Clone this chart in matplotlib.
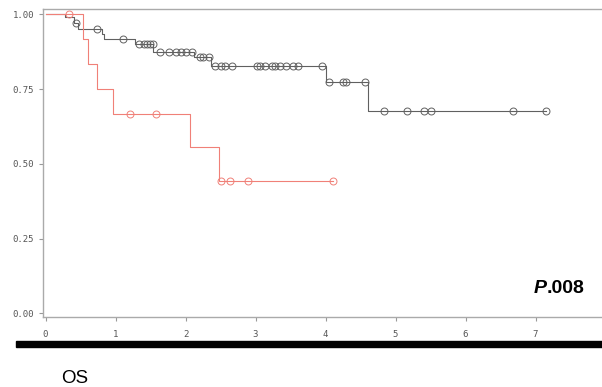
import numpy as np
import matplotlib.pyplot as plt
from matplotlib.patches import Rectangle
from matplotlib.ticker import FormatStrFormatter

# group 1 (black): step times and survival after each step
black_times = [0, 0.28, 0.41, 0.46, 0.80, 0.84, 1.28, 1.54, 2.12, 2.37, 4.01, 4.61]
black_surv = [1.0, 0.99, 0.97, 0.952, 0.935, 0.917, 0.90, 0.875, 0.857, 0.828, 0.773, 0.677]
black_end = 7.15
black_cens = [0.44, 0.73, 1.10, 1.34, 1.40, 1.45, 1.49, 1.53, 1.63, 1.77, 1.87, 1.94,
              2.01, 2.09, 2.21, 2.25, 2.33, 2.42, 2.50, 2.57, 2.66, 3.02, 3.06, 3.14,
              3.23, 3.28, 3.35, 3.43, 3.53, 3.61, 3.95, 4.05, 4.25, 4.29, 4.56, 4.84,
              5.17, 5.40, 5.50, 6.68, 7.15]

# group 2 (red)
red_times = [0, 0.54, 0.60, 0.74, 0.97, 2.06, 2.48]
red_surv = [1.0, 0.917, 0.833, 0.75, 0.667, 0.556, 0.444]
red_end = 4.11
red_cens = [0.34, 1.21, 1.58, 2.50, 2.63, 2.89, 4.11]

xticks = [0, 1, 2, 3, 4, 5, 6, 7]
yticks = [0.0, 0.25, 0.5, 0.75, 1.0]


def surv_at(times, surv, t):
    idx = np.searchsorted(times, t, side='right') - 1
    return np.array(surv)[idx]


fig = plt.figure(figsize=(6.02, 3.87), dpi=100)
ax = fig.add_axes([43/602, 1-317.3/387, 1-43/602, (317.3-9)/387])

for times, surv, end, cens, lc in [
        (black_times, black_surv, black_end, black_cens, '#606060'),
        (red_times, red_surv, red_end, red_cens, '#f08078')]:
    ax.step(times + [end], surv + [surv[-1]], where='post', color=lc, lw=0.8)
    ax.plot(cens, surv_at(times, surv, cens), 'o', mfc='none', mec=lc, ms=5, mew=0.7)

ax.set_xlim(-0.036, 7.95)
ax.set_ylim(-0.013, 1.018)
ax.set_xticks(xticks)
ax.set_yticks(yticks)
ax.yaxis.set_major_formatter(FormatStrFormatter('%.2f'))
for lab in ax.get_xticklabels() + ax.get_yticklabels():
    lab.set_family('DejaVu Sans Mono')
ax.tick_params(direction='out', length=3, color='#999999', labelcolor='#555555', labelsize=6.5)
ax.tick_params(axis='x', pad=6.5)
ax.tick_params(axis='y', pad=3.5)
for s in ['left', 'top', 'bottom']:
    ax.spines[s].set_color('#aaaaaa')
    ax.spines[s].set_linewidth(1.0)
ax.spines['right'].set_visible(False)

fig.text(546.7/602, 1-293.3/387, 'P', fontsize=14, fontweight='bold', style='italic',
         family='Liberation Sans', ha='right', va='baseline')
fig.text(546.7/602, 1-293.3/387, '.008', fontsize=14, fontweight='bold',
         family='Liberation Sans', ha='left', va='baseline')

fig.add_artist(Rectangle((16/602, 1-347/387), (602-16)/602, 6/387,
                         transform=fig.transFigure, color='black'))
fig.text(61/602, 1-383/387, 'OS', fontsize=13.5, family='Liberation Sans',
         ha='left', va='baseline')

fig.savefig('out.png', dpi=100)
